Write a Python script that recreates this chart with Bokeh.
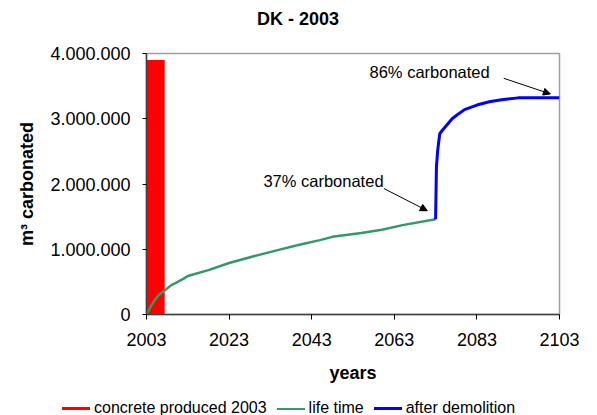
from bokeh.plotting import figure
from bokeh.layouts import column
from bokeh.models import (Range1d, FixedTicker, CustomJSTickFormatter, Div,
                          Arrow, NormalHead, ColumnDataSource)
from bokeh.transform import dodge
from bokeh.core.properties import value
from bokeh.embed import file_html
from bokeh.resources import INLINE

# ---- data ----
chart_title = "DK - 2003"

concrete_year = [2003]
concrete_value = [3900000]

life_years = [2003, 2004, 2005, 2006, 2007, 2009, 2010, 2012, 2013, 2018, 2023, 2030,
              2035, 2040, 2045, 2048, 2055, 2060, 2065, 2073]
life_values = [0, 120000, 220000, 300000, 350000, 450000, 480000, 550000, 590000, 680000,
               790000, 910000, 990000, 1070000, 1140000, 1190000, 1250000, 1300000,
               1370000, 1460000]

demo_years = [2073, 2073.2, 2073.5, 2074, 2074.6, 2077, 2078, 2080, 2083, 2086, 2089,
              2093, 2103]
demo_values = [1460000, 2260000, 2510000, 2770000, 2820000, 3000000, 3050000, 3140000,
               3210000, 3260000, 3290000, 3320000, 3320000]

x_ticks = [2003, 2023, 2043, 2063, 2083, 2103]
y_ticks = [0, 1000000, 2000000, 3000000, 4000000]

note_texts = ["37% carbonated", "86% carbonated"]
note_x = [2031.3, 2057.0]
note_y = [2050000, 3710000]
arrow_x0 = [2060.5, 2089.5]
arrow_y0 = [1930000, 3620000]
arrow_x1 = [2071.0, 2100.8]
arrow_y1 = [1590000, 3380000]

series_labels = ["concrete produced 2003", "life time", "after demolition"]
series_colors = ["#ff0000", "#339966", "#0000ff"]
series_widths = [3, 2.5, 3]

FONT = "Liberation Sans"

# ---- title strip ----
title_div = Div(
    text=('<div style="font-family:\'Liberation Sans\';font-size:18px;font-weight:bold;'
          'line-height:38px;padding-left:257px;color:#000;white-space:nowrap">'
          + chart_title + '</div>'),
    width=597, height=38, margin=0)

# ---- main chart ----
p = figure(width=597, height=357, output_backend="svg", toolbar_location=None,
           x_range=Range1d(2003, 2103), y_range=Range1d(0, 4000000),
           min_border_left=146, min_border_right=38, min_border_top=15,
           min_border_bottom=81)
p.background_fill_color = "white"
p.border_fill_color = "white"
p.outline_line_color = "#a0a0a0"
p.outline_line_width = 1.5
p.grid.visible = False

for ax in (p.xaxis[0], p.yaxis[0]):
    ax.axis_line_color = "#404040"
    ax.axis_line_width = 1.5
    ax.major_tick_line_color = "#000000"
    ax.minor_tick_line_color = None
    ax.major_tick_in = 0
    ax.major_label_text_font = FONT
    ax.major_label_text_font_size = "18px"
    ax.major_label_text_color = "#000000"
    ax.axis_label_text_font = FONT
    ax.axis_label_text_font_size = "18px"
    ax.axis_label_text_font_style = "bold"
    ax.axis_label_text_color = "#000000"

p.xaxis.ticker = FixedTicker(ticks=x_ticks)
p.xaxis.major_tick_out = 5
p.xaxis.major_label_standoff = 13
p.xaxis.axis_label = "years"
p.xaxis.axis_label_standoff = 14

p.yaxis.ticker = FixedTicker(ticks=y_ticks)
p.yaxis.major_tick_out = 4
p.yaxis.major_label_standoff = 12
p.yaxis.axis_label = "m\u00b3 carbonated"
p.yaxis.axis_label_standoff = 10
p.yaxis.formatter = CustomJSTickFormatter(
    code="return Math.round(tick).toString().replace(/\\B(?=(\\d{3})+(?!\\d))/g, '.');")

bar_src = ColumnDataSource(dict(year=concrete_year, val=concrete_value))
p.vbar(x=dodge("year", 1.85, range=p.x_range), top="val", bottom=0, width=5.1,
       source=bar_src, fill_color=series_colors[0], line_color=None)

p.line(life_years, life_values, line_color=series_colors[1], line_width=series_widths[1])
p.line(demo_years, demo_values, line_color=series_colors[2], line_width=series_widths[2])

p.text(x=note_x, y=note_y, text=note_texts, text_font=value(FONT),
       text_font_size="16.5px", text_baseline="middle", text_align="left",
       text_color="#000000")

for i in range(len(arrow_x0)):
    p.add_layout(Arrow(x_start=arrow_x0[i], y_start=arrow_y0[i],
                       x_end=arrow_x1[i], y_end=arrow_y1[i],
                       line_color="black", line_width=1,
                       end=NormalHead(size=7, fill_color="black", line_color="black")))

# ---- legend strip ----
items = []
for i in range(len(series_labels)):
    ml = "0" if i == 0 else "10px"
    items.append('<span style="display:inline-block;width:28px;height:0;'
                 'border-top:%spx solid %s;vertical-align:middle;margin:0 4px 0 %s">'
                 '</span><span>%s</span>' % (series_widths[i], series_colors[i], ml,
                                            series_labels[i]))
legend_div = Div(
    text=('<div style="font-family:\'Liberation Sans\';font-size:16px;line-height:16px;'
          'padding:5px 0 0 62px;color:#000;white-space:nowrap">' + "".join(items) + '</div>'),
    width=597, height=20, margin=0)

layout = column(title_div, p, legend_div, spacing=0)
open("out.html", "w").write(file_html(layout, INLINE))
